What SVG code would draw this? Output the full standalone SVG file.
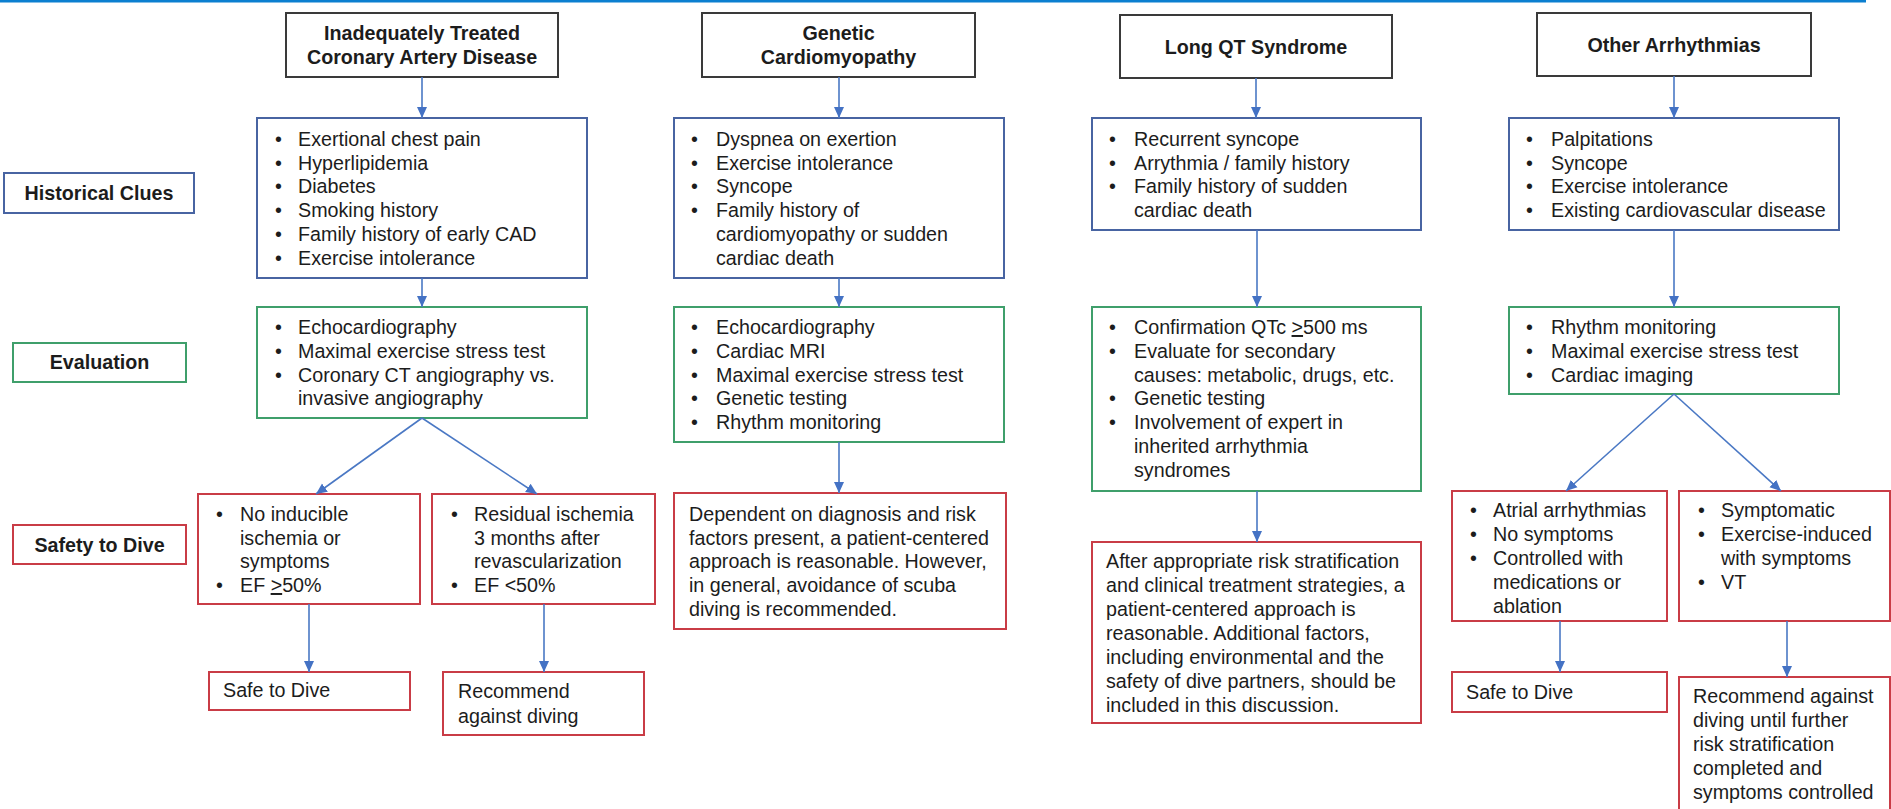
<svg xmlns="http://www.w3.org/2000/svg" width="1891" height="809" viewBox="0 0 1891 809">
<style>
.t{font-family:"Liberation Sans",Arial,sans-serif;font-size:19.7px;fill:#1c1c1c}
.b{font-weight:bold}
.m{text-anchor:middle}
.k{fill:#fff;stroke:#3a3a3a;stroke-width:2}
.bl{fill:#fff;stroke:#4864a2;stroke-width:2}
.gr{fill:#fff;stroke:#3f9f6b;stroke-width:2}
.rd{fill:#fff;stroke:#c93c46;stroke-width:2}
.c{stroke:#4a78c4;stroke-width:1.6;fill:none;marker-end:url(#ah)}
.u{text-decoration:underline}
</style>
<defs>
<marker id="ah" markerUnits="userSpaceOnUse" markerWidth="12" markerHeight="12" refX="11" refY="6" orient="auto">
<path d="M0,1 L11,6 L0,11 z" fill="#4472c4"/>
</marker>
</defs>
<rect width="1891" height="809" fill="#fff"/>
<rect x="0" y="0" width="1866" height="2.5" fill="#0b7fd0"/>

<g id="label-historical">
<rect class="bl" x="4" y="173" width="190" height="40"/>
<text class="t b m" x="99" y="200">Historical Clues</text>
</g>
<g id="label-evaluation">
<rect class="gr" x="13" y="343" width="173" height="39"/>
<text class="t b m" x="99.5" y="369">Evaluation</text>
</g>
<g id="label-safety">
<rect class="rd" x="13" y="525" width="173" height="39"/>
<text class="t b m" x="99.5" y="552">Safety to Dive</text>
</g>

<!-- CAD column -->
<g id="cad-title">
<rect class="k" x="286" y="13" width="272" height="64"/>
<text class="t b m" x="422" y="40">Inadequately Treated</text>
<text class="t b m" x="422" y="64">Coronary Artery Disease</text>
</g>
<g id="cad-hist">
<rect class="bl" x="257" y="118" width="330" height="160"/>
<text class="t"><tspan x="275" y="146">•</tspan><tspan x="298" y="146">Exertional chest pain</tspan><tspan x="275" y="170">•</tspan><tspan x="298" y="170">Hyperlipidemia</tspan><tspan x="275" y="193">•</tspan><tspan x="298" y="193">Diabetes</tspan><tspan x="275" y="217">•</tspan><tspan x="298" y="217">Smoking history</tspan><tspan x="275" y="241">•</tspan><tspan x="298" y="241">Family history of early CAD</tspan><tspan x="275" y="265">•</tspan><tspan x="298" y="265">Exercise intolerance</tspan></text>
</g>
<g id="cad-eval">
<rect class="gr" x="257" y="307" width="330" height="111"/>
<text class="t"><tspan x="275" y="334">•</tspan><tspan x="298" y="334">Echocardiography</tspan><tspan x="275" y="358">•</tspan><tspan x="298" y="358">Maximal exercise stress test</tspan><tspan x="275" y="382">•</tspan><tspan x="298" y="382">Coronary CT angiography vs.</tspan><tspan x="298" y="405">invasive angiography</tspan></text>
</g>
<g id="cad-safe-cond">
<rect class="rd" x="198" y="494" width="222" height="110"/>
<text class="t"><tspan x="216" y="521">•</tspan><tspan x="240" y="521">No inducible</tspan><tspan x="240" y="545">ischemia or</tspan><tspan x="240" y="568">symptoms</tspan><tspan x="216" y="592">•</tspan><tspan x="240" y="592">EF </tspan><tspan class="u">&gt;</tspan><tspan>50%</tspan></text>
</g>
<g id="cad-unsafe-cond">
<rect class="rd" x="432" y="494" width="223" height="110"/>
<text class="t"><tspan x="451" y="521">•</tspan><tspan x="474" y="521">Residual ischemia</tspan><tspan x="474" y="545">3 months after</tspan><tspan x="474" y="568">revascularization</tspan><tspan x="451" y="592">•</tspan><tspan x="474" y="592">EF &lt;50%</tspan></text>
</g>
<g id="cad-safe">
<rect class="rd" x="209" y="672" width="201" height="38"/>
<text class="t" x="223" y="697">Safe to Dive</text>
</g>
<g id="cad-against">
<rect class="rd" x="443" y="672" width="201" height="63"/>
<text class="t"><tspan x="458" y="698">Recommend</tspan><tspan x="458" y="723">against diving</tspan></text>
</g>

<!-- Genetic column -->
<g id="gen-title">
<rect class="k" x="702" y="13" width="273" height="64"/>
<text class="t b m" x="838.5" y="40">Genetic</text>
<text class="t b m" x="838.5" y="64">Cardiomyopathy</text>
</g>
<g id="gen-hist">
<rect class="bl" x="674" y="118" width="330" height="160"/>
<text class="t"><tspan x="691" y="146">•</tspan><tspan x="716" y="146">Dyspnea on exertion</tspan><tspan x="691" y="170">•</tspan><tspan x="716" y="170">Exercise intolerance</tspan><tspan x="691" y="193">•</tspan><tspan x="716" y="193">Syncope</tspan><tspan x="691" y="217">•</tspan><tspan x="716" y="217">Family history of</tspan><tspan x="716" y="241">cardiomyopathy or sudden</tspan><tspan x="716" y="265">cardiac death</tspan></text>
</g>
<g id="gen-eval">
<rect class="gr" x="674" y="307" width="330" height="135"/>
<text class="t"><tspan x="691" y="334">•</tspan><tspan x="716" y="334">Echocardiography</tspan><tspan x="691" y="358">•</tspan><tspan x="716" y="358">Cardiac MRI</tspan><tspan x="691" y="382">•</tspan><tspan x="716" y="382">Maximal exercise stress test</tspan><tspan x="691" y="405">•</tspan><tspan x="716" y="405">Genetic testing</tspan><tspan x="691" y="429">•</tspan><tspan x="716" y="429">Rhythm monitoring</tspan></text>
</g>
<g id="gen-safety">
<rect class="rd" x="674" y="493" width="332" height="136"/>
<text class="t"><tspan x="689" y="521">Dependent on diagnosis and risk</tspan><tspan x="689" y="545">factors present, a patient-centered</tspan><tspan x="689" y="568">approach is reasonable. However,</tspan><tspan x="689" y="592">in general, avoidance of scuba</tspan><tspan x="689" y="616">diving is recommended.</tspan></text>
</g>

<!-- Long QT column -->
<g id="lqt-title">
<rect class="k" x="1120" y="15" width="272" height="63"/>
<text class="t b m" x="1256" y="54">Long QT Syndrome</text>
</g>
<g id="lqt-hist">
<rect class="bl" x="1092" y="118" width="329" height="112"/>
<text class="t"><tspan x="1109" y="146">•</tspan><tspan x="1134" y="146">Recurrent syncope</tspan><tspan x="1109" y="170">•</tspan><tspan x="1134" y="170">Arrythmia / family history</tspan><tspan x="1109" y="193">•</tspan><tspan x="1134" y="193">Family history of sudden</tspan><tspan x="1134" y="217">cardiac death</tspan></text>
</g>
<g id="lqt-eval">
<rect class="gr" x="1092" y="307" width="329" height="184"/>
<text class="t"><tspan x="1109" y="334">•</tspan><tspan x="1134" y="334">Confirmation QTc </tspan><tspan class="u">&gt;</tspan><tspan>500 ms</tspan><tspan x="1109" y="358">•</tspan><tspan x="1134" y="358">Evaluate for secondary</tspan><tspan x="1134" y="382">causes: metabolic, drugs, etc.</tspan><tspan x="1109" y="405">•</tspan><tspan x="1134" y="405">Genetic testing</tspan><tspan x="1109" y="429">•</tspan><tspan x="1134" y="429">Involvement of expert in</tspan><tspan x="1134" y="453">inherited arrhythmia</tspan><tspan x="1134" y="477">syndromes</tspan></text>
</g>
<g id="lqt-safety">
<rect class="rd" x="1092" y="542" width="329" height="181"/>
<text class="t"><tspan x="1106" y="568">After appropriate risk stratification</tspan><tspan x="1106" y="592">and clinical treatment strategies, a</tspan><tspan x="1106" y="616">patient-centered approach is</tspan><tspan x="1106" y="640">reasonable. Additional factors,</tspan><tspan x="1106" y="664">including environmental and the</tspan><tspan x="1106" y="688">safety of dive partners, should be</tspan><tspan x="1106" y="712">included in this discussion.</tspan></text>
</g>

<!-- Other Arrhythmias column -->
<g id="oa-title">
<rect class="k" x="1537" y="13" width="274" height="63"/>
<text class="t b m" x="1674" y="52">Other Arrhythmias</text>
</g>
<g id="oa-hist">
<rect class="bl" x="1509" y="118" width="330" height="112"/>
<text class="t"><tspan x="1526" y="146">•</tspan><tspan x="1551" y="146">Palpitations</tspan><tspan x="1526" y="170">•</tspan><tspan x="1551" y="170">Syncope</tspan><tspan x="1526" y="193">•</tspan><tspan x="1551" y="193">Exercise intolerance</tspan><tspan x="1526" y="217">•</tspan><tspan x="1551" y="217">Existing cardiovascular disease</tspan></text>
</g>
<g id="oa-eval">
<rect class="gr" x="1509" y="307" width="330" height="87"/>
<text class="t"><tspan x="1526" y="334">•</tspan><tspan x="1551" y="334">Rhythm monitoring</tspan><tspan x="1526" y="358">•</tspan><tspan x="1551" y="358">Maximal exercise stress test</tspan><tspan x="1526" y="382">•</tspan><tspan x="1551" y="382">Cardiac imaging</tspan></text>
</g>
<g id="oa-safe-cond">
<rect class="rd" x="1452" y="491" width="215" height="130"/>
<text class="t"><tspan x="1470" y="517">•</tspan><tspan x="1493" y="517">Atrial arrhythmias</tspan><tspan x="1470" y="541">•</tspan><tspan x="1493" y="541">No symptoms</tspan><tspan x="1470" y="565">•</tspan><tspan x="1493" y="565">Controlled with</tspan><tspan x="1493" y="589">medications or</tspan><tspan x="1493" y="613">ablation</tspan></text>
</g>
<g id="oa-unsafe-cond">
<rect class="rd" x="1679" y="491" width="211" height="130"/>
<text class="t"><tspan x="1698" y="517">•</tspan><tspan x="1721" y="517">Symptomatic</tspan><tspan x="1698" y="541">•</tspan><tspan x="1721" y="541">Exercise-induced</tspan><tspan x="1721" y="565">with symptoms</tspan><tspan x="1698" y="589">•</tspan><tspan x="1721" y="589">VT</tspan></text>
</g>
<g id="oa-safe">
<rect class="rd" x="1452" y="672" width="215" height="40"/>
<text class="t" x="1466" y="699">Safe to Dive</text>
</g>
<g id="oa-against">
<rect class="rd" x="1679" y="677" width="211" height="145"/>
<text class="t"><tspan x="1693" y="703">Recommend against</tspan><tspan x="1693" y="727">diving until further</tspan><tspan x="1693" y="751">risk stratification</tspan><tspan x="1693" y="775">completed and</tspan><tspan x="1693" y="799">symptoms controlled</tspan></text>
</g>

<g id="connectors">
<line class="c" x1="422" y1="77" x2="422" y2="118"/>
<line class="c" x1="839" y1="77" x2="839" y2="118"/>
<line class="c" x1="1256" y1="78" x2="1256" y2="118"/>
<line class="c" x1="1674" y1="76" x2="1674" y2="118"/>
<line class="c" x1="422" y1="278" x2="422" y2="307"/>
<line class="c" x1="839" y1="278" x2="839" y2="307"/>
<line class="c" x1="1257" y1="230" x2="1257" y2="307"/>
<line class="c" x1="1674" y1="230" x2="1674" y2="307"/>
<line class="c" x1="422" y1="418" x2="316" y2="494"/>
<line class="c" x1="422" y1="418" x2="537" y2="494"/>
<line class="c" x1="839" y1="442" x2="839" y2="493"/>
<line class="c" x1="1257" y1="491" x2="1257" y2="542"/>
<line class="c" x1="1674" y1="394" x2="1566" y2="491"/>
<line class="c" x1="1674" y1="394" x2="1781" y2="491"/>
<line class="c" x1="309" y1="604" x2="309" y2="672"/>
<line class="c" x1="544" y1="604" x2="544" y2="672"/>
<line class="c" x1="1560" y1="621" x2="1560" y2="672"/>
<line class="c" x1="1787" y1="621" x2="1787" y2="677"/>
</g>
</svg>
